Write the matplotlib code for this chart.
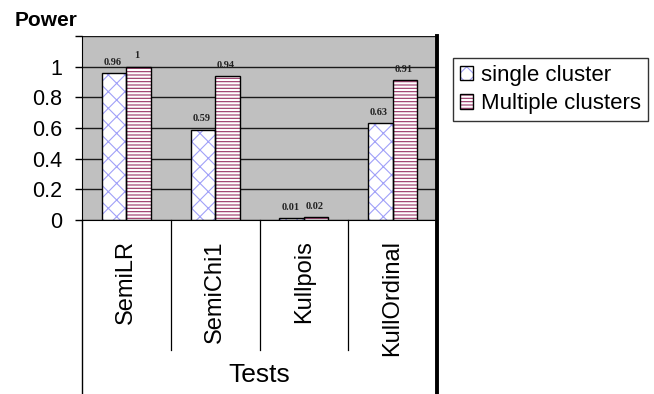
import matplotlib
matplotlib.use("Agg")
import matplotlib.pyplot as plt
import numpy as np

categories = ["SemiLR", "SemiChi1", "Kullpois", "KullOrdinal"]
single_cluster = [0.96, 0.59, 0.01, 0.63]
multiple_clusters = [1.0, 0.94, 0.02, 0.91]
series_names = ["single cluster", "Multiple clusters"]
yticks = [0, 0.2, 0.4, 0.6, 0.8, 1.0, 1.2]
ytick_labels = ["0", "0.2", "0.4", "0.6", "0.8", "1", ""]

plt.rcParams['font.family'] = ['Liberation Sans', 'DejaVu Sans']
plt.rcParams['hatch.linewidth'] = 0.8

W, H = 654, 394
fig = plt.figure(figsize=(W / 100, H / 100), dpi=100)
fig.patch.set_facecolor('white')

ax_left, ax_right, ax_bottom, ax_top = 82, 437, 220, 36
ax = fig.add_axes([ax_left / W, 1 - ax_bottom / H, (ax_right - ax_left) / W, (ax_bottom - ax_top) / H])
ax.set_facecolor('#C0C0C0')
ax.set_axisbelow(True)

x = np.arange(len(categories))
bw = 0.276
off = 0.138
hatch_colors = ['#A0A0F8', '#993366']
hatches = ['xx', '-----']
handles = []
for vals, dx, hc, h in zip([single_cluster, multiple_clusters], [-off, off], hatch_colors, hatches):
    b1 = ax.bar(x + dx, vals, bw, color='white', edgecolor=hc, hatch=h, linewidth=0, zorder=2)
    b2 = ax.bar(x + dx, vals, bw, color='none', edgecolor='black', linewidth=1.0, zorder=3)
    handles.append((b1[0], b2[0]))
    for xi, v in zip(x + dx, vals):
        ax.annotate(f"{v:g}", (xi, v), xytext=(-1, 4.5), textcoords='offset points',
                    ha='center', va='bottom', fontsize=7.5, fontweight='bold',
                    family=['Liberation Serif', 'DejaVu Serif'], color='#222222', zorder=4)

ax.set_xlim(-0.5, len(categories) - 0.5)
ax.set_ylim(0, 1.2)
ax.set_yticks(yticks)
ax.set_yticklabels(ytick_labels)
ax.tick_params(axis='y', length=5, width=1, pad=9, labelsize=15.5, colors='black')
ax.yaxis.grid(True, color='#1a1a1a', linewidth=1.0)
ax.set_xticks(x)
ax.set_xticklabels(categories, rotation=90, fontsize=17)
ax.tick_params(axis='x', length=0, pad=14.5)

for s in ['top', 'right']:
    ax.spines[s].set_visible(False)
ax.spines['bottom'].set_color('black')
ax.spines['left'].set_color('black')

ax_h = ax_bottom - ax_top
# category separators below the axis
for d in np.arange(0.5, len(categories) - 0.5, 1.0):
    ax.axvline(d, ymin=-130 / ax_h, ymax=0, color='black', linewidth=0.9, clip_on=False)
ax.axvline(-0.5, ymin=-(H - ax_bottom) / ax_h, ymax=0, color='black', linewidth=1.0, clip_on=False)
ax.axvline(len(categories) - 0.5, ymin=-(H - ax_bottom) / ax_h, ymax=1, color='black',
           linewidth=2.8, clip_on=False, zorder=5)

ax.text((len(categories) - 1) / 2, -(375 - ax_bottom) / ax_h, "Tests", transform=ax.get_xaxis_transform(),
        ha='center', va='center', fontsize=19)

fig.text(15 / W, 1 - 20 / H, "Power", ha='left', va='center', fontsize=15, fontweight='bold')

leg = fig.legend(handles, series_names, loc='upper left', bbox_to_anchor=(453 / W, 1 - 58 / H),
                 borderaxespad=0, fontsize=16, frameon=True, fancybox=False, edgecolor='black',
                 handlelength=0.62, handleheight=0.62, handletextpad=0.35, labelspacing=0.35,
                 borderpad=0.3)
leg.get_frame().set_linewidth(1.0)

fig.savefig('out.png', dpi=100)
